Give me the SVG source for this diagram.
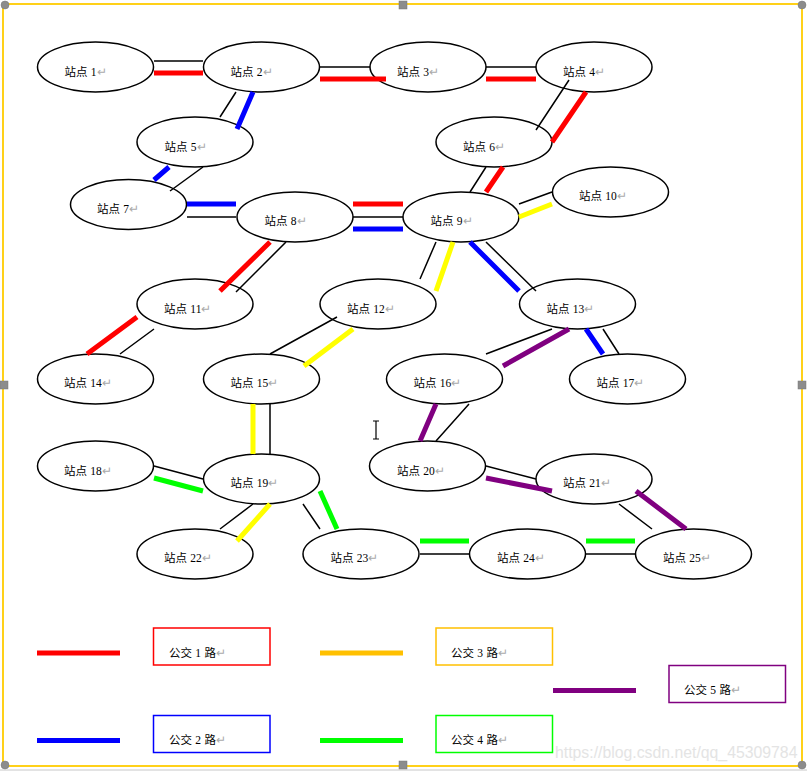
<svg xmlns="http://www.w3.org/2000/svg" width="807" height="771" viewBox="0 0 807 771">
<style>
text{font-family:"Liberation Serif","Noto Sans CJK SC",serif;font-size:11.500px;fill:#000;word-spacing:.5px}
.r{fill:#aaa}
ellipse{fill:#fff;stroke:#000;stroke-width:1.5}
.b{stroke:#000;stroke-width:1.5;fill:none}
.t{stroke-width:5;fill:none}
.red{stroke:#f00}.blue{stroke:#00f}.yel{stroke:#ff0}.grn{stroke:#0f0}.pur{stroke:#800080}.gold{stroke:#ffc000}
.box{fill:#fff;stroke-width:1.5}
.h{fill:#8c8c8c;stroke:#777;stroke-width:.5}
</style>
<rect width="807" height="771" fill="#fff"/>
<path d="M0 770H807" stroke="#c8c8c8" stroke-width="1"/>
<rect id="frame" x="3" y="4" width="799" height="762" fill="none" stroke="#ffcc00" stroke-width="1.8"/>
<g id="n1"><ellipse cx="95.500" cy="67" rx="58" ry="25"/><text x="64.500" y="76">站点 1<tspan class="r">↵</tspan></text></g>
<g id="n2"><ellipse cx="261.500" cy="67" rx="58" ry="25"/><text x="230.500" y="76">站点 2<tspan class="r">↵</tspan></text></g>
<g id="n3"><ellipse cx="428" cy="67" rx="58" ry="25"/><text x="397" y="76">站点 3<tspan class="r">↵</tspan></text></g>
<g id="n4"><ellipse cx="594" cy="67" rx="58" ry="25"/><text x="563" y="76">站点 4<tspan class="r">↵</tspan></text></g>
<g id="n5"><ellipse cx="195" cy="142" rx="58" ry="25"/><text x="164.500" y="151">站点 5<tspan class="r">↵</tspan></text></g>
<g id="n6"><ellipse cx="494" cy="142" rx="58" ry="25"/><text x="463" y="151">站点 6<tspan class="r">↵</tspan></text></g>
<g id="n7"><ellipse cx="128.500" cy="204.500" rx="58" ry="25"/><text x="97" y="213">站点 7<tspan class="r">↵</tspan></text></g>
<g id="n8"><ellipse cx="295" cy="217" rx="58" ry="25"/><text x="264.500" y="225">站点 8<tspan class="r">↵</tspan></text></g>
<g id="n9"><ellipse cx="461" cy="217" rx="58" ry="25"/><text x="430.500" y="225">站点 9<tspan class="r">↵</tspan></text></g>
<g id="n10"><ellipse cx="610.500" cy="192" rx="58" ry="25"/><text x="579" y="200">站点 10<tspan class="r">↵</tspan></text></g>
<g id="n11"><ellipse cx="195" cy="304" rx="58" ry="25"/><text x="164" y="313">站点 11<tspan class="r">↵</tspan></text></g>
<g id="n12"><ellipse cx="378" cy="304" rx="58" ry="25"/><text x="347" y="313">站点 12<tspan class="r">↵</tspan></text></g>
<g id="n13"><ellipse cx="577.500" cy="304" rx="58" ry="25"/><text x="546.500" y="313">站点 13<tspan class="r">↵</tspan></text></g>
<g id="n14"><ellipse cx="95.500" cy="379" rx="58" ry="25"/><text x="64" y="387">站点 14<tspan class="r">↵</tspan></text></g>
<g id="n15"><ellipse cx="261.500" cy="379" rx="58" ry="25"/><text x="230.500" y="387">站点 15<tspan class="r">↵</tspan></text></g>
<g id="n16"><ellipse cx="444.500" cy="379" rx="58" ry="25"/><text x="413.500" y="387">站点 16<tspan class="r">↵</tspan></text></g>
<g id="n17"><ellipse cx="627.500" cy="379" rx="58" ry="25"/><text x="596.500" y="387">站点 17<tspan class="r">↵</tspan></text></g>
<g id="n18"><ellipse cx="95.500" cy="466" rx="58" ry="25"/><text x="64" y="475">站点 18<tspan class="r">↵</tspan></text></g>
<g id="n19"><ellipse cx="261.500" cy="479" rx="58" ry="25"/><text x="230.500" y="487">站点 19<tspan class="r">↵</tspan></text></g>
<g id="n20"><ellipse cx="427.500" cy="466" rx="58" ry="25"/><text x="397" y="475">站点 20<tspan class="r">↵</tspan></text></g>
<g id="n21"><ellipse cx="594" cy="479" rx="58" ry="25"/><text x="563" y="487">站点 21<tspan class="r">↵</tspan></text></g>
<g id="n22"><ellipse cx="195" cy="554" rx="58" ry="25"/><text x="164" y="562">站点 22<tspan class="r">↵</tspan></text></g>
<g id="n23"><ellipse cx="361" cy="554" rx="58" ry="25"/><text x="330.500" y="562">站点 23<tspan class="r">↵</tspan></text></g>
<g id="n24"><ellipse cx="527.500" cy="554" rx="58" ry="25"/><text x="497" y="562">站点 24<tspan class="r">↵</tspan></text></g>
<g id="n25"><ellipse cx="693.500" cy="554" rx="58" ry="25"/><text x="663" y="562">站点 25<tspan class="r">↵</tspan></text></g>
<g id="connectors">
<path class="b" d="M154 61H203M320 67H370M486 67H536M236 92L220 117M203 167L170 191M187 217H236M353 217H403M569 80L536 130M486 167L470 192M519 204L552 192M286 242L236 292M436 242L420 279M486 242L536 291M154 329L120 354M337 317L270 354M552 329L486 354M603 329L619 354M270 404V454M469 404L436 441M154 466L203 479M486 466L536 479M253 504L220 529M303 504L320 529M420 554H469M586 554H635M619 504L652 529"/>
<path class="t red" d="M154 73H203M320 79H386M486 79H536M586 92L552 142M503 167L486 192M353 204H403M270 242L220 291M137 317L87 354"/>
<path class="t blue" d="M253 92L237 129M169 167L154 180M187 204H236M353 229H403M470 242L519 291M586 329L603 354"/>
<path class="t yel" d="M519 217L552 204M453 242L436 291M353 329L304 366M253 404V454M270 504L237 541"/>
<path class="t grn" d="M154 478L203 491M320 491L337 529M420 541H469M586 541H635"/>
<path class="t pur" d="M569 329L503 366M436 404L420 441M486 478L552 491M636 491L686 529"/>
</g>
<g id="legend1"><path class="t red" d="M37 653H120"/><rect class="box" x="153.500" y="628" width="116.500" height="37" stroke="#f00"/><text x="169" y="657">公交 1 路<tspan class="r">↵</tspan></text></g>
<g id="legend2"><path class="t blue" d="M37 740.500H120"/><rect class="box" x="153.500" y="715.500" width="116.500" height="37" stroke="#00f"/><text x="169" y="744">公交 2 路<tspan class="r">↵</tspan></text></g>
<g id="legend3"><path class="t gold" d="M320 653H403"/><rect class="box" x="436" y="628" width="116.500" height="37" stroke="#ffc000"/><text x="451" y="657">公交 3 路<tspan class="r">↵</tspan></text></g>
<g id="legend4"><path class="t grn" d="M320 740.500H403"/><rect class="box" x="436" y="715.500" width="116.500" height="37" stroke="#0f0"/><text x="451" y="744">公交 4 路<tspan class="r">↵</tspan></text></g>
<g id="legend5"><path class="t pur" d="M553 690.500H636"/><rect class="box" x="669" y="665.500" width="116.500" height="37" stroke="#800080"/><text x="684" y="694">公交 5 路<tspan class="r">↵</tspan></text></g>
<path d="M373 421H379M376 421V439M373 439H379" stroke="#000" stroke-width="1.200" fill="none"/>
<circle class="h" cx="5" cy="5" r="4"/><rect class="h" x="399" y="1" width="8" height="8"/><circle class="h" cx="802" cy="5" r="4"/>
<rect class="h" x="0" y="381" width="8" height="8"/><rect class="h" x="798" y="381" width="8" height="8"/>
<circle class="h" cx="5" cy="765" r="4"/><rect class="h" x="399" y="761" width="8" height="8"/><circle class="h" cx="802" cy="765" r="4"/>
<text x="555" y="758" style="font-family:'Liberation Sans',sans-serif;font-size:15.800px;fill:#e4e4e4;word-spacing:0">https://blog.csdn.net/qq_45309784</text>
</svg>
